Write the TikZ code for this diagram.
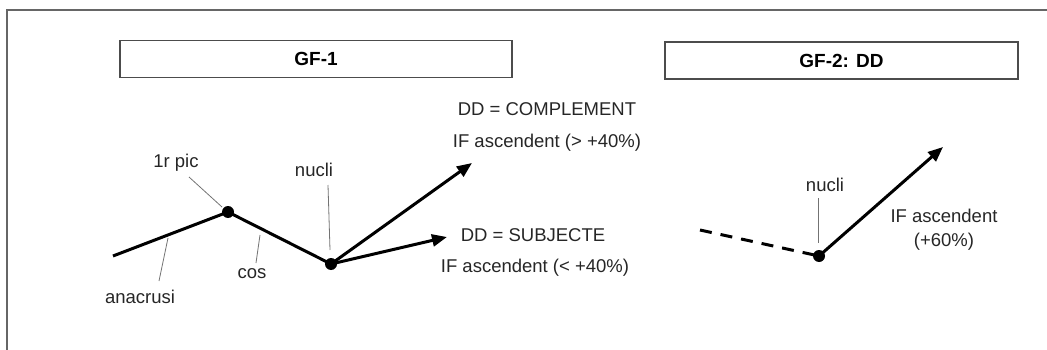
\documentclass[tikz,border=0pt]{standalone}
\usepackage{fontspec}
\setmainfont{Liberation Sans}
\usetikzlibrary{arrows.meta,positioning}

\begin{document}
\begin{tikzpicture}[x=1pt, y=-1pt,
    title/.style={draw=black!70, line width=1.2pt, minimum width=392pt, minimum height=37pt, font=\fontsize{19}{22}\selectfont\bfseries},
    lbl/.style={font=\fontsize{18.5}{24}\selectfont, text=black!85, inner sep=1pt},
    dot/.style={circle, fill=black, inner sep=0pt, minimum size=12pt},
    curve/.style={line width=3pt},
    arrow/.style={curve, -{Triangle[length=15pt,width=12pt]}},
    leader/.style={black!55, line width=0.8pt}]

    \useasboundingbox (0,0) rectangle (1047,350);
    \draw[black!60, line width=1.5pt] (7,350) -- (7,10) -- (1047,10);

    % titles
    \node[title] (gf1) at (316,59) {GF-1};
    \node[title, minimum width=353pt] (gf2) at (841.5,60.5) {GF-2: DD};

    % GF-1 contour
    \coordinate (start) at (113,256);
    \node[dot] (pic) at (228,212) {};
    \node[dot] (nuc) at (331,264) {};
    \coordinate (comp) at (472,163);
    \coordinate (subj) at (447,237);

    \draw[curve] (start) -- (pic.center) -- (nuc.center);
    \draw[arrow] (nuc.center) -- (comp);
    \draw[arrow] (nuc.center) -- (subj);

    \node[lbl] (piclbl) at (176,163) {1r pic};
    \node[lbl] (nuclbl) at (314,170) {nucli};
    \node[lbl] (coslbl) at (252,274) {cos};
    \node[lbl] (analbl) at (140,297) {anacrusi};

    \coordinate (picend) at (222,207);
    \coordinate (nucend) at (330,250);
    \coordinate (cosend) at (260,235);
    \coordinate (anaend) at (168,238);
    \draw[leader] (189,177) -- (picend);
    \draw[leader] (328,185) -- (nucend);
    \draw[leader] (cosend) -- (256,263);
    \draw[leader] (anaend) -- (159,281);

    \node[lbl] (dd1) at (547,109) {DD = COMPLEMENT};
    \node[lbl] (if1) at (547,143) {IF ascendent (> +40\%)};
    \node[lbl] (dd2) at (533,235) {DD = SUBJECTE};
    \node[lbl] (if2) at (535,268) {IF ascendent (< +40\%)};

    % GF-2 contour
    \coordinate (prev) at (700,230);
    \node[dot] (nuc2) at (819,256) {};
    \coordinate (rise) at (943,147);
    \draw[curve, dash pattern=on 12pt off 9pt] (prev) -- (nuc2.center);
    \draw[arrow] (nuc2.center) -- (rise);

    \node[lbl] (nuc2lbl) at (825,185) {nucli};
    \coordinate (nuc2end) at (818,243);
    \draw[leader] (818,198) -- (nuc2end);
    \node[lbl, align=center] (if3) at (944,230) {IF ascendent\\(+60\%)};
\end{tikzpicture}
\end{document}
